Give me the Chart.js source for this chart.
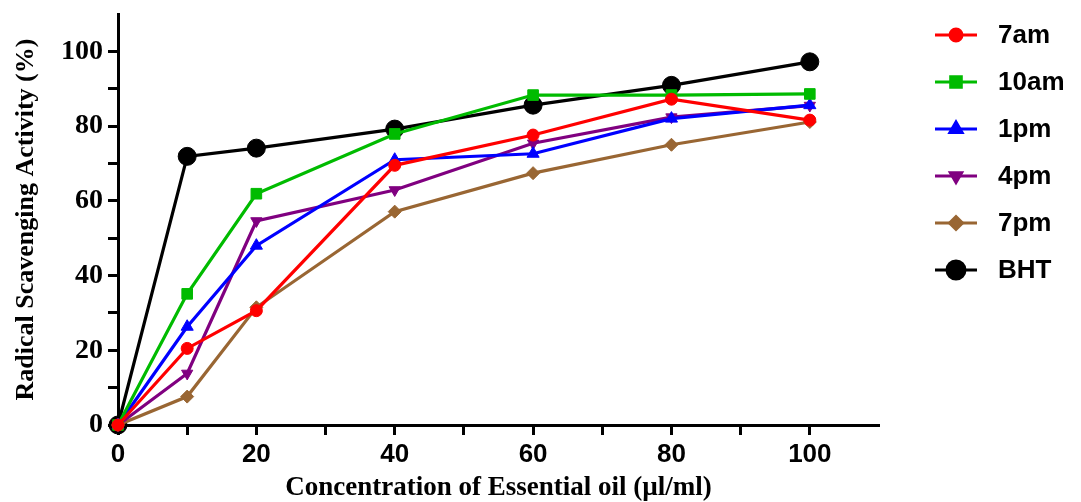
<!DOCTYPE html>
<html>
<head>
<meta charset="utf-8">
<script src="https://cdn.jsdelivr.net/npm/chart.js@4"></script>
<style>
  html, body { margin: 0; padding: 0; background: #fff; }
  #wrap { width: 1081px; height: 502px; position: relative; }
</style>
</head>
<body>
<div id="wrap"><canvas id="chart"></canvas></div>
<script>
// concentration of essential oil (µl/ml)
const concentrations = [0, 10, 20, 40, 60, 80, 100];

// radical scavenging activity (%) per harvest time
const am7  = [0, 20.5, 30.6, 69.5, 77.6, 87.2, 81.6];
const am10 = [0, 35.1, 61.9, 77.9, 88.3, 88.3, 88.6];
const pm1  = [0, 26.3, 48.0, 71.0, 72.6, 82.0, 85.6];
const pm4  = [0, 13.8, 54.6, 62.9, 75.4, 82.4, 85.5];
const pm7  = [0, 7.6, 31.5, 57.1, 67.4, 75.0, 81.1];
const bht  = [0, 71.9, 74.1, 79.2, 85.6, 90.9, 97.2];

const seriesLabels = ['7am', '10am', '1pm', '4pm', '7pm', 'BHT'];
const seriesData = [am7, am10, pm1, pm4, pm7, bht];
const seriesColors = ['#ff0000', '#00bb00', '#0000ff', '#800080', '#996633', '#000000'];
const markers = [
    { style: 'circle', radius: 6, rotation: 0 },
    { style: 'rect', radius: 7.5, rotation: 0 },
    { style: 'triangle', radius: 7, rotation: 0 },
    { style: 'triangle', radius: 6.5, rotation: 180 },
    { style: 'rectRot', radius: 6.5, rotation: 0 },
    { style: 'circle', radius: 9, rotation: 0 }
];

const axisTicks = [0, 20, 40, 60, 80, 100];

function toPoints(values) {
    return concentrations.map((c, i) => ({ x: c, y: values[i] }));
}

const datasets = seriesLabels.map((label, i) => ({
    label: label,
    data: toPoints(seriesData[i]),
    borderColor: seriesColors[i],
    backgroundColor: seriesColors[i],
    borderWidth: 3.2,
    pointStyle: markers[i].style,
    pointRadius: markers[i].radius,
    pointRotation: markers[i].rotation,
    pointBorderWidth: 1,
    tension: 0,
    clip: false
}));

// legend drawn by hand: short line with the marker in its middle
const sideLegend = {
    id: 'sideLegend',
    afterDraw(chart) {
        const ctx = chart.ctx;
        ctx.save();
        seriesLabels.forEach((label, i) => {
            const y = 35 + i * 47;
            ctx.strokeStyle = seriesColors[i];
            ctx.lineWidth = 3;
            ctx.beginPath();
            ctx.moveTo(935, y);
            ctx.lineTo(977, y);
            ctx.stroke();
            ctx.fillStyle = seriesColors[i];
            Chart.helpers.drawPoint(ctx, {
                pointStyle: markers[i].style,
                radius: markers[i].radius,
                rotation: markers[i].rotation,
                borderWidth: 1
            }, 956, y);
            ctx.fillStyle = '#000';
            ctx.font = 'bold 26px "Liberation Sans", Arial, sans-serif';
            ctx.textAlign = 'left';
            ctx.textBaseline = 'middle';
            ctx.fillText(label, 998, y + 1);
        });
        ctx.restore();
    }
};

function tickLabel(value) {
    return axisTicks.includes(value) ? String(value) : '';
}

function tickColor(ctx) {
    return ctx.tick && ctx.tick.value === 110 ? 'rgba(0,0,0,0)' : '#000';
}

new Chart(document.getElementById('chart'), {
    type: 'line',
    data: { datasets: datasets },
    plugins: [sideLegend],
    options: {
        responsive: true,
        maintainAspectRatio: false,
        animation: false,
        layout: { padding: { left: 0, right: 202, top: 14, bottom: 0 } },
        plugins: {
            legend: { display: false },
            tooltip: { enabled: false }
        },
        scales: {
            x: {
                type: 'linear',
                min: 0,
                max: 110,
                afterFit(scale) {
                    scale.height = 77;
                    scale.paddingLeft = 0;
                    scale.paddingRight = 0;
                },
                border: { display: true, color: '#000', width: 3 },
                grid: {
                    drawOnChartArea: false,
                    drawTicks: true,
                    tickLength: 10,
                    tickWidth: 3,
                    tickColor: tickColor
                },
                ticks: {
                    stepSize: 10,
                    autoSkip: false,
                    maxRotation: 0,
                    padding: 4,
                    color: '#000',
                    font: { family: '"Liberation Sans", Arial, sans-serif', size: 26, weight: 'bold' },
                    callback: tickLabel
                },
                title: {
                    display: true,
                    text: 'Concentration of Essential oil (µl/ml)',
                    color: '#000',
                    font: { family: '"Liberation Serif", "Times New Roman", serif', size: 27, weight: 'bold', lineHeight: 1 },
                    padding: { top: 0, bottom: 0 }
                }
            },
            y: {
                type: 'linear',
                min: 0,
                max: 110,
                afterFit(scale) {
                    scale.width = 118;
                    scale.paddingTop = 0;
                    scale.paddingBottom = 0;
                },
                border: { display: true, color: '#000', width: 3 },
                grid: {
                    drawOnChartArea: false,
                    drawTicks: true,
                    tickLength: 10,
                    tickWidth: 3,
                    tickColor: tickColor
                },
                ticks: {
                    stepSize: 10,
                    autoSkip: false,
                    padding: 5,
                    color: '#000',
                    font: { family: '"Liberation Serif", "Times New Roman", serif', size: 28, weight: 'bold' },
                    callback: tickLabel
                },
                title: {
                    display: true,
                    text: 'Radical Scavenging Activity (%)',
                    color: '#000',
                    font: { family: '"Liberation Serif", "Times New Roman", serif', size: 26, weight: 'bold' },
                    padding: { top: 11, bottom: 0 }
                }
            }
        }
    }
});
</script>
</body>
</html>
